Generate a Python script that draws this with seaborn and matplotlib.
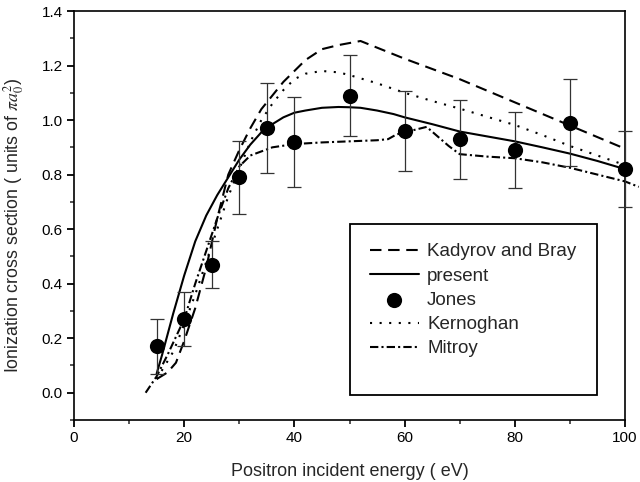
import matplotlib
matplotlib.use("Agg")
import matplotlib.pyplot as plt
from matplotlib.patches import Rectangle
from matplotlib.ticker import MultipleLocator
import numpy as np
import pandas as pd
import seaborn as sns

# Kadyrov and Bray
kb_energy = [15, 17, 18.5, 20, 22, 24, 26, 28, 30, 32, 34, 36, 38, 40, 42, 45, 48, 52, 60, 70, 80, 90, 100]
kb_sigma = [0.05, 0.075, 0.11, 0.19, 0.31, 0.46, 0.64, 0.80, 0.89, 0.97, 1.04, 1.09, 1.14, 1.18, 1.22, 1.26, 1.275, 1.29, 1.225, 1.15, 1.065, 0.98, 0.895]

# present calculation
pr_energy = [15, 16, 18, 20, 22, 24, 26, 28, 30, 32, 34, 36, 38, 40, 42, 45, 48, 50, 52, 55, 58, 60, 65, 70, 75, 80, 85, 90, 95, 100]
pr_sigma = [0.07, 0.14, 0.29, 0.43, 0.555, 0.65, 0.725, 0.79, 0.855, 0.91, 0.955, 0.985, 1.01, 1.027, 1.035, 1.045, 1.048, 1.047, 1.045, 1.035, 1.022, 1.01, 0.985, 0.958, 0.94, 0.922, 0.9, 0.877, 0.85, 0.82]

# Jones measurements
jo_energy = [15, 20, 25, 30, 35, 40, 50, 60, 70, 80, 90, 100]
jo_sigma = [0.17, 0.27, 0.47, 0.79, 0.97, 0.92, 1.09, 0.96, 0.93, 0.89, 0.99, 0.82]
jo_error = [0.10, 0.10, 0.085, 0.135, 0.165, 0.165, 0.15, 0.145, 0.145, 0.14, 0.16, 0.14]

# Kernoghan
ke_energy = [15, 18, 20, 22, 24, 26, 28, 30, 32, 34, 36, 38, 40, 42, 45, 48, 50, 55, 60, 65, 70, 75, 80, 85, 90, 95, 100]
ke_sigma = [0.05, 0.15, 0.25, 0.36, 0.48, 0.60, 0.72, 0.82, 0.92, 1.00, 1.06, 1.11, 1.15, 1.17, 1.18, 1.175, 1.165, 1.135, 1.10, 1.07, 1.042, 1.012, 0.982, 0.945, 0.905, 0.87, 0.835]

# Mitroy
mi_energy = [13, 15, 17, 20, 22, 24, 26, 28, 30, 32, 34, 36, 40, 45, 50, 55, 57, 58.5, 60, 62, 64, 66, 68, 70, 75, 80, 85, 90, 95, 100, 102.5]
mi_sigma = [0.0, 0.06, 0.14, 0.27, 0.40, 0.52, 0.64, 0.75, 0.83, 0.87, 0.885, 0.90, 0.912, 0.918, 0.922, 0.926, 0.93, 0.947, 0.955, 0.965, 0.975, 0.94, 0.905, 0.875, 0.866, 0.86, 0.845, 0.825, 0.80, 0.775, 0.755]

x_ticks = [0, 20, 40, 60, 80, 100]
y_ticks = [0.0, 0.2, 0.4, 0.6, 0.8, 1.0, 1.2, 1.4]

sns.set_theme(style="ticks")
plt.rcParams["font.family"] = ["Liberation Sans", "DejaVu Sans"]
plt.rcParams["mathtext.fontset"] = "stix"

fig = plt.figure(figsize=(6.4, 4.82), dpi=100)
ax = fig.add_axes([74 / 640, 1 - 420 / 482, 551 / 640, 409 / 482])

lw = 1.5
sns.lineplot(x=kb_energy, y=kb_sigma, ax=ax, color="black", lw=lw, label="Kadyrov and Bray",
             estimator=None, sort=False)
ax.lines[-1].set_dashes((5.5, 3.2))
sns.lineplot(x=pr_energy, y=pr_sigma, ax=ax, color="black", lw=lw, label="present",
             estimator=None, sort=False)
ax.errorbar(jo_energy, jo_sigma, yerr=jo_error, fmt="none", ecolor="#333333",
            elinewidth=0.9, capsize=5, capthick=0.9, clip_on=False, zorder=3)
sns.scatterplot(x=jo_energy, y=jo_sigma, ax=ax, color="black", s=120, edgecolor="black",
                linewidth=0, label="Jones", clip_on=False, zorder=4)
sns.lineplot(x=ke_energy, y=ke_sigma, ax=ax, color="black", lw=lw, label="Kernoghan",
             estimator=None, sort=False)
ax.lines[-1].set_dashes((1, 3.6))
sns.lineplot(x=mi_energy, y=mi_sigma, ax=ax, color="black", lw=lw, label="Mitroy",
             estimator=None, sort=False)
ax.lines[-1].set_dashes((4, 1.5, 1, 1.5))
ax.lines[-1].set_clip_on(False)

ax.set_xlim(0, 100)
ax.set_ylim(-0.1, 1.4)
ax.set_xticks(x_ticks)
ax.set_xticklabels([str(v) for v in x_ticks])
ax.set_yticks(y_ticks)
ax.set_yticklabels([f"{v:.1f}" for v in y_ticks])
ax.xaxis.set_minor_locator(MultipleLocator(10))
ax.yaxis.set_minor_locator(MultipleLocator(0.1))
ax.tick_params(which="major", direction="out", length=5, width=1.3, labelsize=11, pad=3,
               colors="black")
ax.tick_params(which="minor", direction="out", length=3, width=1.1)
for side in ["left", "bottom", "top", "right"]:
    ax.spines[side].set_visible(True)
    ax.spines[side].set_linewidth(1.2)
    ax.spines[side].set_color("black")

ax.set_xlabel("Positron incident energy ( eV)", fontsize=13)
ax.set_ylabel(r"Ionization cross section ( units of $\pi a_0^2$)", fontsize=12.8)
ax.xaxis.set_label_coords(0.5, -0.105)
ax.yaxis.set_label_coords(-0.088, 0.475)

handles, labels = ax.get_legend_handles_labels()
leg = ax.legend(handles, labels, loc="upper left", bbox_to_anchor=(0.537, 0.432),
                frameon=False, fontsize=13.5, handlelength=2.6, handletextpad=0.45,
                labelspacing=0.38, borderpad=0, borderaxespad=0)
# frame around the key, taller than its entries
ax.add_patch(Rectangle((0.501, 0.061), 0.448, 0.418, transform=ax.transAxes,
                       fill=False, edgecolor="black", lw=1.3, zorder=5))

fig.savefig("out.png", dpi=100)
